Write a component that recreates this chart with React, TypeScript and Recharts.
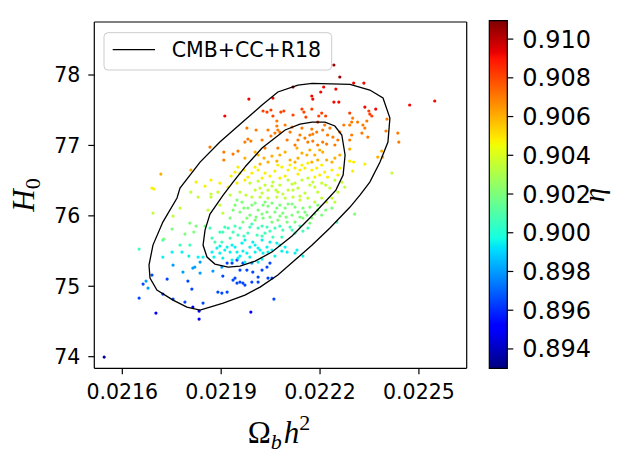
import React from 'react';
import { ScatterChart, Scatter, XAxis, YAxis, ReferenceArea } from 'recharts';

// ---- axes ----
const omegaTicks = [0.0216, 0.0219, 0.0222, 0.0225];
const hubbleTicks = [74, 75, 76, 77, 78];
const etaTicks = [0.894, 0.896, 0.898, 0.9, 0.902, 0.904, 0.906, 0.908, 0.91];
const omegaDomain: [number, number] = [0.021515, 0.022645];
const hubbleDomain: [number, number] = [73.835, 78.753];
const etaDomain: [number, number] = [0.893, 0.91095];
const legendLabel = 'CMB+CC+R18';

type Pt = [number, number];

// ---- confidence contours (Omega_b h^2, H0) ----
const outerContour: Pt[] = [
  [0.022133, 77.858], [0.022176, 77.882], [0.022291, 77.868], [0.022351, 77.787], [0.022391, 77.673],
  [0.022412, 77.389], [0.022406, 77.048], [0.022382, 76.764], [0.022351, 76.48], [0.022321, 76.295],
  [0.022291, 76.125], [0.02223, 75.827], [0.022176, 75.585], [0.022124, 75.372], [0.022072, 75.159],
  [0.022018, 74.988], [0.021972, 74.875], [0.021906, 74.761], [0.021836, 74.662], [0.021796, 74.704],
  [0.021754, 74.804], [0.021705, 74.946], [0.021684, 75.116], [0.021681, 75.301], [0.021693, 75.585],
  [0.021723, 75.912], [0.021766, 76.253], [0.021775, 76.395], [0.021836, 76.764], [0.021896, 77.048],
  [0.021972, 77.361], [0.022024, 77.574], [0.022072, 77.759], [0.022133, 77.858],
];
const innerContour: Pt[] = [
  [0.021972, 76.693], [0.022024, 76.963], [0.022094, 77.219], [0.022139, 77.304], [0.022176, 77.332],
  [0.022215, 77.332], [0.022245, 77.276], [0.022266, 77.148], [0.022276, 76.864], [0.02227, 76.579],
  [0.022248, 76.366], [0.022215, 76.196], [0.022169, 75.969], [0.022115, 75.713], [0.022054, 75.486],
  [0.022003, 75.358], [0.021957, 75.287], [0.021921, 75.273], [0.021881, 75.315], [0.021857, 75.415],
  [0.021845, 75.585], [0.021851, 75.798], [0.021866, 76.026], [0.021906, 76.295], [0.021936, 76.48],
  [0.021972, 76.693],
];

// ---- chain samples, grouped by eta ----
const eta9105: Pt[] = [[0.022242, 78.142], [0.02226, 77.972], [0.022118, 77.83]];
const eta9092: Pt[] = [
  [0.021911, 77.418], [0.022211, 77.83], [0.022248, 77.801], [0.021984, 77.659], [0.022057, 77.673],
  [0.022175, 77.702], [0.022178, 77.659], [0.022202, 77.759], [0.022242, 77.616], [0.022257, 77.616],
  [0.022302, 77.886], [0.022333, 77.886], [0.022336, 77.545], [0.022369, 77.517], [0.022472, 77.574],
  [0.022548, 77.631],
];
const eta9081: Pt[] = [
  [0.022027, 77.489], [0.022039, 77.474], [0.022051, 77.503], [0.022057, 77.418], [0.022081, 77.474],
  [0.02209, 77.489], [0.022118, 77.432], [0.022145, 77.517], [0.022151, 77.474], [0.022157, 77.403],
  [0.022175, 77.517], [0.022196, 77.418], [0.022205, 77.46], [0.022217, 77.418], [0.022193, 77.332],
  [0.022348, 77.489], [0.022351, 77.446], [0.022357, 77.418], [0.02229, 77.46],
];
const eta9070: Pt[] = [
  [0.021866, 76.977], [0.021908, 76.906], [0.021936, 76.878], [0.021951, 76.92], [0.021908, 76.793],
  [0.022069, 77.347], [0.022069, 77.276], [0.022078, 77.19], [0.022063, 77.176], [0.022051, 77.134],
  [0.022072, 77.219], [0.022115, 77.261], [0.022145, 77.247], [0.022175, 77.233], [0.022178, 77.162],
  [0.02219, 77.19], [0.022208, 77.219], [0.022223, 77.148], [0.022239, 77.119], [0.02226, 77.19],
  [0.022272, 77.29], [0.022214, 77.29], [0.021978, 77.247], [0.021981, 77.091], [0.021972, 77.048],
  [0.02199, 77.062], [0.022154, 77.105], [0.022163, 77.048], [0.022178, 77.062], [0.022193, 77.006],
  [0.022208, 77.048], [0.02222, 77.02], [0.022124, 77.006], [0.022072, 76.963], [0.022033, 76.963],
  [0.022299, 77.389], [0.022296, 77.332], [0.02229, 77.29], [0.022314, 77.332], [0.02233, 77.29],
  [0.022336, 77.247], [0.022342, 77.347], [0.022327, 77.176], [0.022345, 77.119], [0.022296, 77.148],
  [0.02229, 77.077], [0.022403, 77.375], [0.0224, 77.205], [0.022436, 77.176], [0.022439, 77.048],
  [0.0221, 77.077], [0.022139, 77.148], [0.022109, 77.19], [0.022024, 77.077], [0.022245, 77.006],
  [0.022006, 77.219], [0.022094, 77.29], [0.022133, 77.077], [0.022169, 77.148], [0.02223, 77.247],
  [0.022254, 77.077], [0.022042, 77.219],
];
const eta9060: Pt[] = [
  [0.021717, 76.594], [0.021808, 76.651], [0.02213, 76.963], [0.022094, 76.906], [0.022012, 76.864],
  [0.022003, 76.906], [0.022208, 76.906], [0.022184, 76.864], [0.02216, 76.864], [0.022145, 76.892],
  [0.022133, 76.821], [0.022109, 76.793], [0.022069, 76.778], [0.022042, 76.764], [0.022018, 76.736],
  [0.022175, 76.764], [0.022193, 76.793], [0.02222, 76.793], [0.022236, 76.764], [0.02229, 76.949],
  [0.02239, 76.835], [0.022387, 76.92], [0.022375, 76.835], [0.021972, 76.821], [0.022054, 76.849],
  [0.02226, 76.864], [0.022169, 76.935], [0.022078, 76.864], [0.022124, 76.764], [0.022199, 76.935],
  [0.022245, 76.821], [0.02203, 76.821],
];
const eta9048: Pt[] = [
  [0.021951, 76.693], [0.021942, 76.622], [0.02193, 76.565], [0.021957, 76.608], [0.021824, 76.48],
  [0.021869, 76.508], [0.021851, 76.423], [0.021896, 76.466], [0.021921, 76.409], [0.021948, 76.466],
  [0.02169, 76.395], [0.021696, 76.381], [0.022003, 76.693], [0.022145, 76.722], [0.022154, 76.679],
  [0.022163, 76.75], [0.022124, 76.679], [0.022103, 76.651], [0.022084, 76.693], [0.022063, 76.636],
  [0.022033, 76.608], [0.022012, 76.651], [0.021993, 76.608], [0.021981, 76.551], [0.022175, 76.651],
  [0.02219, 76.679], [0.022214, 76.622], [0.022236, 76.651], [0.022199, 76.58], [0.022223, 76.551],
  [0.022254, 76.58], [0.02229, 76.778], [0.022302, 76.764], [0.022336, 76.736], [0.022299, 76.636],
  [0.022048, 76.565], [0.022094, 76.565], [0.022133, 76.594], [0.022184, 76.551], [0.021969, 76.651],
  [0.022109, 76.722], [0.022072, 76.722], [0.022024, 76.537], [0.022078, 76.537], [0.022139, 76.651],
  [0.022205, 76.722], [0.02226, 76.679], [0.021972, 76.508],
];
const eta9035: Pt[] = [
  [0.021808, 76.338], [0.02189, 76.338], [0.021957, 76.338], [0.021869, 76.31], [0.021987, 76.466],
  [0.022012, 76.494], [0.022033, 76.437], [0.022057, 76.48], [0.022078, 76.437], [0.022103, 76.508],
  [0.022124, 76.466], [0.022145, 76.508], [0.022163, 76.537], [0.022178, 76.48], [0.022205, 76.466],
  [0.022184, 76.409], [0.022133, 76.395], [0.022103, 76.366], [0.022072, 76.338], [0.022042, 76.366],
  [0.022024, 76.324], [0.022266, 76.48], [0.022275, 76.409], [0.022418, 76.608], [0.021693, 76.04],
  [0.021754, 75.997], [0.021775, 76.111], [0.02186, 76.082], [0.021869, 76.267], [0.02183, 76.267],
  [0.021896, 76.153], [0.021905, 76.04], [0.021993, 76.267], [0.022018, 76.267], [0.022042, 76.253],
  [0.022069, 76.267], [0.022094, 76.253], [0.022118, 76.267], [0.022139, 76.224], [0.022163, 76.253],
  [0.022184, 76.196], [0.022205, 76.253], [0.022236, 76.253], [0.022245, 76.196], [0.02222, 76.196],
  [0.022087, 76.31], [0.022118, 76.366], [0.022154, 76.324], [0.022193, 76.338], [0.02223, 76.395],
  [0.022245, 76.508], [0.022003, 76.366], [0.021975, 76.295], [0.021927, 76.295], [0.022054, 76.423],
  [0.022018, 76.395], [0.022066, 76.366], [0.022115, 76.451], [0.022169, 76.437], [0.022217, 76.437],
  [0.022254, 76.338], [0.022139, 76.281],
];
const eta9020: Pt[] = [
  [0.022003, 76.182], [0.022027, 76.153], [0.022054, 76.182], [0.022078, 76.153], [0.022103, 76.168],
  [0.022124, 76.125], [0.022148, 76.111], [0.022169, 76.125], [0.021981, 76.111], [0.022012, 76.082],
  [0.022039, 76.054], [0.022063, 76.054], [0.022087, 76.04], [0.022115, 76.011], [0.022139, 75.983],
  [0.02216, 76.011], [0.022236, 76.111], [0.021751, 75.812], [0.021726, 75.67], [0.021805, 75.898],
  [0.021824, 75.855], [0.021851, 75.855], [0.02179, 75.741], [0.021817, 75.77], [0.021927, 75.969],
  [0.021957, 76.054], [0.021942, 76.153], [0.021948, 76.224], [0.021963, 76.196], [0.021936, 76.082],
  [0.021966, 75.912], [0.021978, 75.969], [0.022003, 75.94], [0.022027, 75.969], [0.022054, 75.912],
  [0.022072, 75.94], [0.0221, 75.912], [0.022124, 75.912], [0.022148, 75.969], [0.022175, 75.969],
  [0.022169, 75.898], [0.022305, 76.026], [0.021987, 76.011], [0.022024, 76.026], [0.022078, 75.997],
  [0.022133, 76.054], [0.022193, 76.082], [0.022205, 76.011], [0.022094, 76.111], [0.022042, 76.139],
  [0.021993, 76.153], [0.022033, 76.196], [0.022069, 76.111], [0.022115, 76.168], [0.022154, 76.054],
  [0.022193, 76.153], [0.022217, 76.082], [0.022006, 75.983], [0.022048, 75.983], [0.022097, 75.983],
  [0.022184, 76.026], [0.021969, 76.111],
];
const eta9007: Pt[] = [
  [0.021651, 75.528], [0.021723, 75.656], [0.021911, 75.841], [0.021905, 75.77], [0.021936, 75.77],
  [0.021957, 75.827], [0.021927, 75.685], [0.021872, 75.685], [0.021881, 75.628], [0.021902, 75.628],
  [0.021987, 75.841], [0.022012, 75.827], [0.022039, 75.841], [0.022063, 75.827], [0.022087, 75.798],
  [0.022109, 75.841], [0.022163, 75.827], [0.022148, 75.784], [0.021981, 75.756], [0.022009, 75.727],
  [0.022033, 75.756], [0.022057, 75.699], [0.022084, 75.699], [0.022251, 75.912], [0.021775, 75.585],
  [0.021805, 75.585], [0.022024, 75.855], [0.022124, 75.756], [0.022048, 75.784], [0.021969, 75.713],
  [0.021942, 75.855], [0.021896, 75.77], [0.022139, 75.855], [0.021993, 75.884], [0.022078, 75.855],
  [0.022115, 75.798], [0.022024, 75.713], [0.021921, 75.827], [0.021951, 75.727], [0.021866, 75.827],
];
const eta8995: Pt[] = [
  [0.021918, 75.557], [0.021942, 75.557], [0.021963, 75.614], [0.021911, 75.514], [0.021887, 75.543],
  [0.021927, 75.486], [0.021948, 75.486], [0.021966, 75.5], [0.021872, 75.486], [0.021896, 75.471],
  [0.021878, 75.415], [0.021905, 75.4], [0.021933, 75.372], [0.021951, 75.4], [0.021972, 75.656],
  [0.021996, 75.628], [0.022024, 75.656], [0.022048, 75.628], [0.022069, 75.614], [0.021987, 75.557],
  [0.022012, 75.543], [0.022039, 75.557], [0.022003, 75.486], [0.022027, 75.471], [0.021978, 75.471],
  [0.021987, 75.415], [0.0221, 75.486], [0.022124, 75.471], [0.02213, 75.514], [0.022148, 75.429],
  [0.022078, 75.585], [0.021751, 75.486], [0.021781, 75.486], [0.021723, 75.415], [0.021802, 75.429],
  [0.02183, 75.415], [0.021845, 75.415], [0.022018, 75.514], [0.022054, 75.514], [0.022094, 75.557],
  [0.022063, 75.429], [0.021957, 75.429], [0.022024, 75.386], [0.021933, 75.585], [0.022003, 75.585],
  [0.022042, 75.486], [0.022084, 75.5], [0.021972, 75.344], [0.022012, 75.344], [0.021896, 75.571],
];
const eta8980: Pt[] = [
  [0.021836, 75.344], [0.021754, 75.301], [0.02182, 75.273], [0.021836, 75.187], [0.021875, 75.216],
  [0.021814, 75.258], [0.021784, 75.202], [0.021672, 75.074], [0.021678, 74.974], [0.021993, 75.329],
  [0.021902, 75.273],
];
const eta8965: Pt[] = [
  [0.021918, 75.329], [0.021933, 75.329], [0.021948, 75.372], [0.021966, 75.329], [0.021957, 75.23],
  [0.021905, 75.145], [0.021942, 75.116], [0.021957, 75.06], [0.021966, 75.045], [0.021948, 75.045],
  [0.021936, 75.088], [0.02169, 75.159], [0.021663, 75.031], [0.021736, 75.102], [0.021799, 75.074],
  [0.021811, 74.96], [0.02189, 74.918], [0.021902, 74.903], [0.021918, 74.918], [0.021723, 74.889],
  [0.021754, 74.818], [0.02179, 74.776], [0.021845, 74.761], [0.021978, 75.23], [0.021996, 75.202],
  [0.022024, 75.23], [0.022039, 75.273], [0.022048, 75.329], [0.022012, 75.131], [0.021993, 75.06],
  [0.022012, 75.06], [0.022042, 75.116], [0.022054, 75.116], [0.021972, 75.017], [0.02206, 74.818],
  [0.021651, 74.832],
];
const eta8950: Pt[] = [
  [0.021814, 74.704], [0.021833, 74.648], [0.021833, 74.534], [0.021702, 74.619], [0.02199, 74.633],
];
const eta8934: Pt[] = [[0.021545, 73.994]];

const sampleGroups: { eta: number; pts: Pt[] }[] = [
  { eta: 0.8934, pts: eta8934 },
  { eta: 0.895, pts: eta8950 },
  { eta: 0.8965, pts: eta8965 },
  { eta: 0.898, pts: eta8980 },
  { eta: 0.8995, pts: eta8995 },
  { eta: 0.9007, pts: eta9007 },
  { eta: 0.902, pts: eta9020 },
  { eta: 0.9035, pts: eta9035 },
  { eta: 0.9048, pts: eta9048 },
  { eta: 0.906, pts: eta9060 },
  { eta: 0.907, pts: eta9070 },
  { eta: 0.9081, pts: eta9081 },
  { eta: 0.9092, pts: eta9092 },
  { eta: 0.9105, pts: eta9105 },
];

// ---- jet colormap ----
type Seg = [number, number][];
const jetRed: Seg = [[0, 0], [0.35, 0], [0.66, 1], [0.89, 1], [1, 0.5]];
const jetGreen: Seg = [[0, 0], [0.125, 0], [0.375, 1], [0.64, 1], [0.91, 0], [1, 0]];
const jetBlue: Seg = [[0, 0.5], [0.11, 1], [0.34, 1], [0.65, 0], [1, 0]];
const jetStops = [0, 0.11, 0.125, 0.34, 0.35, 0.375, 0.64, 0.65, 0.66, 0.89, 0.91, 1];

function channel(seg: Seg, t: number): number {
  for (let i = 0; i < seg.length - 1; i++) {
    const [t0, v0] = seg[i];
    const [t1, v1] = seg[i + 1];
    if (t <= t1) return t1 === t0 ? v1 : v0 + ((t - t0) / (t1 - t0)) * (v1 - v0);
  }
  return seg[seg.length - 1][1];
}
function jet(t: number): string {
  const c = Math.max(0, Math.min(1, t));
  const r = Math.round(channel(jetRed, c) * 255);
  const g = Math.round(channel(jetGreen, c) * 255);
  const b = Math.round(channel(jetBlue, c) * 255);
  return `rgb(${r},${g},${b})`;
}
const etaColor = (eta: number) => jet((eta - etaDomain[0]) / (etaDomain[1] - etaDomain[0]));

const toRows = (pts: Pt[]) => pts.map(([omega, h0]) => ({ omega, h0 }));
// the colourbar spans the full eta range
const colorbarRows = [
  { x: 0, eta: etaDomain[0] },
  { x: 1, eta: etaDomain[1] },
];

const FONT = 'DejaVu Sans';
const MATH = 'Liberation Serif';

const makeDot = (color: string) => (props: any) => (
  <circle cx={props.cx} cy={props.cy} r={1.6} fill={color} />
);
const noMarker = () => <g />;

const HubbleTitle = () => (
  <text transform="translate(34,195) rotate(-90)" textAnchor="middle" fontFamily={MATH} fontSize={31} fill="#000">
    <tspan fontStyle="italic">H</tspan>
    <tspan fontSize={22} dy={6}>0</tspan>
  </text>
);

const OmegaTitle = () => (
  <text x={279} y={443} textAnchor="middle" fontFamily={MATH} fontSize={31} fill="#000">
    <tspan>Ω</tspan>
    <tspan fontStyle="italic" fontSize={22} dy={6}>b</tspan>
    <tspan fontStyle="italic" fontSize={31} dy={-6} dx={2}>h</tspan>
    <tspan fontSize={22} dy={-13}>2</tspan>
  </text>
);

const EtaTitle = () => (
  <text transform="translate(604,195) rotate(-90)" textAnchor="middle" fontFamily={MATH} fontStyle="italic" fontSize={29} fill="#000">
    η
  </text>
);

function LegendBox() {
  return (
    <svg style={{ position: 'absolute', left: 103, top: 32 }} width={231} height={40}>
      <rect x={1} y={0.7} width={227.7} height={37.3} rx={4} fill="#fff" fillOpacity={0.85} stroke="#cccccc" strokeWidth={1} />
      <line x1={9.7} x2={52} y1={17.7} y2={17.7} stroke="#000" strokeWidth={1.3} />
      <text x={68.7} y={25.3} fontFamily={FONT} fontSize={20.5} fill="#000">
        {legendLabel}
      </text>
    </svg>
  );
}

const tickStyle = { fill: '#000', fontSize: 20.5, fontFamily: FONT };

export default function App() {
  return (
    <div style={{ position: 'absolute', left: 0, top: 0, width: 634, height: 465, background: '#fff' }}>
      <div style={{ position: 'absolute', left: 0, top: 0 }}>
        <ScatterChart width={634} height={465} margin={{ top: 21, right: 166.3, bottom: 66.7, left: 34.3 }}>
          <XAxis
            type="number"
            dataKey="omega"
            domain={omegaDomain}
            ticks={omegaTicks}
            interval={0}
            allowDataOverflow
            tickFormatter={(v: number) => v.toFixed(4)}
            height={30}
            tickSize={6}
            tickMargin={10}
            tick={tickStyle}
            axisLine={{ stroke: '#000', strokeWidth: 1.2 }}
            tickLine={{ stroke: '#000', strokeWidth: 1.2 }}
            label={<OmegaTitle />}
          />
          <XAxis
            xAxisId="top"
            orientation="top"
            type="number"
            domain={omegaDomain}
            allowDataOverflow
            height={1}
            tick={false}
            tickLine={false}
            axisLine={{ stroke: '#000', strokeWidth: 1.2 }}
          />
          <YAxis
            type="number"
            dataKey="h0"
            domain={hubbleDomain}
            ticks={hubbleTicks}
            interval={0}
            allowDataOverflow
            width={60}
            tickSize={6}
            tickMargin={8}
            tick={tickStyle}
            axisLine={{ stroke: '#000', strokeWidth: 1.2 }}
            tickLine={{ stroke: '#000', strokeWidth: 1.2 }}
            label={<HubbleTitle />}
          />
          <YAxis
            yAxisId="right"
            orientation="right"
            type="number"
            domain={hubbleDomain}
            allowDataOverflow
            width={1}
            tick={false}
            tickLine={false}
            axisLine={{ stroke: '#000', strokeWidth: 1.2 }}
          />
          {sampleGroups.map((g) => (
            <Scatter
              key={g.eta}
              data={toRows(g.pts)}
              fill={etaColor(g.eta)}
              shape={makeDot(etaColor(g.eta))}
              isAnimationActive={false}
            />
          ))}
          <Scatter
            name={legendLabel}
            data={toRows(outerContour)}
            line={{ stroke: '#000', strokeWidth: 1.3, fill: 'none' }}
            lineType="joint"
            shape={noMarker}
            isAnimationActive={false}
          />
          <Scatter
            name={legendLabel}
            data={toRows(innerContour)}
            line={{ stroke: '#000', strokeWidth: 1.3, fill: 'none' }}
            lineType="joint"
            shape={noMarker}
            isAnimationActive={false}
          />
        </ScatterChart>
      </div>

      <div style={{ position: 'absolute', left: 0, top: 0 }}>
        <ScatterChart width={634} height={465} margin={{ top: 20.7, right: 26.7, bottom: 96.7, left: 489.3 }}>
          <defs>
            <linearGradient id="jetGradient" x1="0" y1="1" x2="0" y2="0">
              {jetStops.map((s) => (
                <stop key={s} offset={s} stopColor={jet(s)} />
              ))}
            </linearGradient>
          </defs>
          <XAxis type="number" dataKey="x" domain={[0, 1]} hide />
          <YAxis
            type="number"
            dataKey="eta"
            orientation="right"
            domain={etaDomain}
            ticks={etaTicks}
            interval={0}
            allowDataOverflow
            width={100}
            tickSize={6}
            tickMargin={9}
            axisLine={false}
            tickLine={{ stroke: '#000', strokeWidth: 1.2 }}
            tick={{ fill: '#000', fontSize: 24, fontFamily: FONT }}
            tickFormatter={(v: number) => v.toFixed(3)}
            label={<EtaTitle />}
          />
          <Scatter data={colorbarRows} shape={noMarker} isAnimationActive={false} />
          <ReferenceArea
            x1={0}
            x2={1}
            y1={etaDomain[0]}
            y2={etaDomain[1]}
            ifOverflow="visible"
            fill="url(#jetGradient)"
            fillOpacity={1}
            stroke="#000"
            strokeWidth={1.2}
          />
        </ScatterChart>
      </div>

      <LegendBox />
    </div>
  );
}
